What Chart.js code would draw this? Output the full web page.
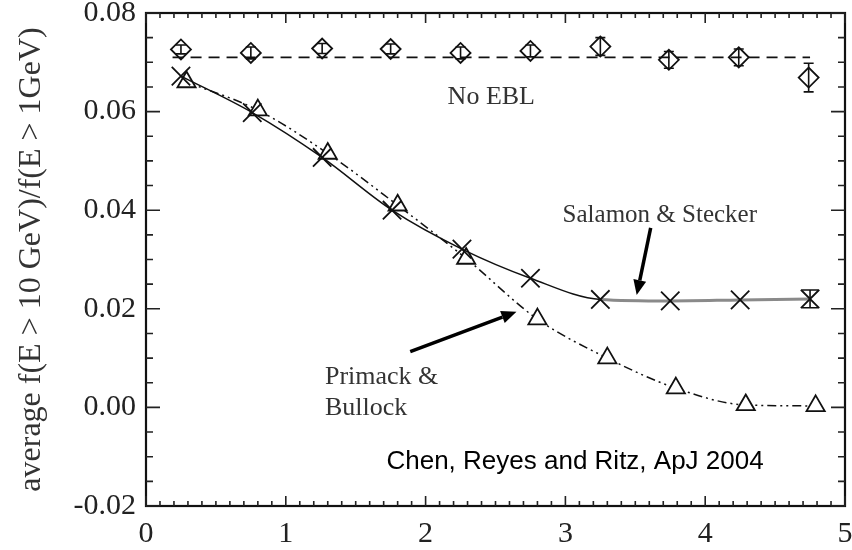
<!DOCTYPE html>
<html><head><meta charset="utf-8">
<script src="https://cdn.jsdelivr.net/npm/chart.js@4.4.1/dist/chart.umd.min.js"></script>
<style>html,body{margin:0;padding:0;background:#fff}#wrap{width:852px;height:550px;position:relative}canvas{display:block}</style>
</head><body><div id="wrap"><canvas id="c" width="852" height="550"></canvas></div>
<script>
// ---- data ----
const xTicks = [0, 1, 2, 3, 4, 5];
const yTicks = [-0.02, 0.00, 0.02, 0.04, 0.06, 0.08];
const noEblX = [0.25, 0.75, 1.26, 1.75, 2.25, 2.75, 3.25, 3.74, 4.24, 4.74];
const noEblY = [0.0726, 0.0719, 0.0728, 0.0727, 0.0719, 0.0723, 0.0732, 0.0705, 0.0710, 0.0669];
const noEblErr = [0.0009, 0.0012, 0.0010, 0.0010, 0.0012, 0.0012, 0.0018, 0.0017, 0.0017, 0.0029];
const noEblRefX = [0.19, 4.75];
const noEblRefY = [0.0710, 0.0710];
const ssX = [0.25, 0.76, 1.26, 1.76, 2.26, 2.75, 3.25, 3.75, 4.25, 4.75];
const ssY = [0.0672, 0.0598, 0.0507, 0.0400, 0.0321, 0.0262, 0.0219, 0.0216, 0.0218, 0.0220];
const ssErr = [0, 0, 0, 0, 0, 0, 0, 0, 0, 0.0018];
const pbX = [0.29, 0.80, 1.30, 1.80, 2.29, 2.80, 3.30, 3.79, 4.29, 4.79];
const pbY = [0.0660, 0.0603, 0.0515, 0.0410, 0.0302, 0.0179, 0.0100, 0.0039, 0.0005, 0.0003];

const pts = (xs, ys) => xs.map((x, i) => ({x: x, y: ys[i]}));

const notes = [
  {text: 'No EBL', x: 2.47, y: 0.0630, font: '26px "Liberation Serif"', color: '#333', align: 'center'},
  {text: 'Salamon & Stecker', x: 2.98, y: 0.0390, font: '25px "Liberation Serif"', color: '#333', align: 'left'},
  {text: 'Primack &', x: 1.28, y: 0.0062, font: '26px "Liberation Serif"', color: '#333', align: 'left'},
  {text: 'Bullock', x: 1.28, y: -0.0001, font: '26px "Liberation Serif"', color: '#333', align: 'left'},
  {text: 'Chen, Reyes and Ritz, ApJ 2004', x: 1.72, y: -0.0111, font: '26px "Liberation Sans"', color: '#000', align: 'left'}
];
const arrows = [
  {x0: 3.61, y0: 0.0364, x1: 3.51, y1: 0.0228},
  {x0: 1.89, y0: 0.0113, x1: 2.65, y1: 0.0194}
];

const decor = {
  id: 'decor',
  afterDatasetsDraw(chart) {
    const ctx = chart.ctx, xs = chart.scales.x, ys = chart.scales.y, a = chart.chartArea;
    ctx.save();
    const eb = (X, Y, E, cap) => {
      ctx.strokeStyle = '#111'; ctx.lineWidth = 1.6;
      X.forEach((x, i) => {
        if (!E[i]) return;
        const px = xs.getPixelForValue(x), p1 = ys.getPixelForValue(Y[i] + E[i]), p2 = ys.getPixelForValue(Y[i] - E[i]);
        ctx.beginPath();
        ctx.moveTo(px, p1); ctx.lineTo(px, p2);
        ctx.moveTo(px - cap, p1); ctx.lineTo(px + cap, p1);
        ctx.moveTo(px - cap, p2); ctx.lineTo(px + cap, p2);
        ctx.stroke();
      });
    };
    eb(noEblX, noEblY, noEblErr, 5);
    eb(ssX, ssY, ssErr, 8);
    ctx.strokeStyle = '#111'; ctx.lineWidth = 2.2;
    ctx.strokeRect(a.left, a.top, a.right - a.left, a.bottom - a.top);
    ctx.lineWidth = 1.6; ctx.strokeStyle = '#222';
    ctx.beginPath();
    for (let k = 0; k <= 50; k++) {
      const v = k / 10, px = xs.getPixelForValue(v), L = (k % 10 === 0) ? 10 : 5;
      ctx.moveTo(px, a.bottom); ctx.lineTo(px, a.bottom - L);
      ctx.moveTo(px, a.top); ctx.lineTo(px, a.top + L);
    }
    for (let k = 0; k <= 20; k++) {
      const v = -0.02 + k * 0.005, py = ys.getPixelForValue(v), L = (k % 4 === 0) ? 14 : 7;
      ctx.moveTo(a.left, py); ctx.lineTo(a.left + L, py);
      ctx.moveTo(a.right, py); ctx.lineTo(a.right - L, py);
    }
    ctx.stroke();
    ctx.textBaseline = 'middle';
    notes.forEach(n => {
      ctx.font = n.font; ctx.fillStyle = n.color; ctx.textAlign = n.align;
      ctx.fillText(n.text, xs.getPixelForValue(n.x), ys.getPixelForValue(n.y));
    });
    arrows.forEach(r => {
      const x0 = xs.getPixelForValue(r.x0), y0 = ys.getPixelForValue(r.y0);
      const x1 = xs.getPixelForValue(r.x1), y1 = ys.getPixelForValue(r.y1);
      const ang = Math.atan2(y1 - y0, x1 - x0), hl = 15, hw = 6.5;
      const bx = x1 - hl * Math.cos(ang), by = y1 - hl * Math.sin(ang);
      ctx.strokeStyle = '#000'; ctx.fillStyle = '#000'; ctx.lineWidth = 3.5;
      ctx.beginPath(); ctx.moveTo(x0, y0); ctx.lineTo(bx, by); ctx.stroke();
      ctx.beginPath();
      ctx.moveTo(x1, y1);
      ctx.lineTo(bx + hw * Math.sin(ang), by - hw * Math.cos(ang));
      ctx.lineTo(bx - hw * Math.sin(ang), by + hw * Math.cos(ang));
      ctx.closePath(); ctx.fill();
    });
    ctx.restore();
  }
};

new Chart(document.getElementById('c'), {
  type: 'scatter',
  data: {
    datasets: [
      {label: 'No EBL', data: pts(noEblX, noEblY), showLine: false, pointStyle: 'rectRot', pointRadius: 10,
       borderColor: '#111', backgroundColor: 'rgba(255,255,255,0)', borderWidth: 1.8},
      {label: 'No EBL level', data: pts(noEblRefX, noEblRefY), showLine: true, pointRadius: 0,
       borderColor: '#111', borderWidth: 1.6, borderDash: [11, 7]},
      {label: 'Salamon & Stecker', data: pts(ssX, ssY), showLine: true, pointStyle: 'crossRot', pointRadius: 13,
       borderColor: '#111', pointBorderColor: '#111', borderWidth: 1.5, pointBorderWidth: 1.8, cubicInterpolationMode: 'monotone',
       segment: {borderColor: c => c.p0DataIndex >= 6 ? '#8a8a8a' : '#111', borderWidth: c => c.p0DataIndex >= 6 ? 3 : 1.5}},
      {label: 'Primack & Bullock', data: pts(pbX, pbY), showLine: true, pointStyle: 'triangle', pointRadius: 10.5,
       borderColor: '#111', pointBackgroundColor: '#fff', backgroundColor: '#fff', borderWidth: 1.5, pointBorderWidth: 1.8,
       borderDash: [9, 4, 2, 4, 2, 4], cubicInterpolationMode: 'monotone'}
    ]
  },
  options: {
    responsive: false, maintainAspectRatio: false, animation: false, devicePixelRatio: 1,
    layout: {autoPadding: false, padding: {top: 13, right: 7, left: 0, bottom: 0}},
    plugins: {legend: {display: false}, tooltip: {enabled: false}},
    scales: {
      x: {
        type: 'linear', min: 0, max: 5,
        afterBuildTicks: s => { s.ticks = xTicks.map(v => ({value: v})); },
        afterFit: s => { s.height = 44; s.paddingLeft = 0; s.paddingRight = 0; },
        grid: {display: false, drawTicks: false}, border: {display: false},
        ticks: {padding: 10, color: '#222', font: {family: '"Liberation Serif"', size: 30}, callback: v => String(v), maxRotation: 0}
      },
      y: {
        type: 'linear', min: -0.02, max: 0.08,
        afterBuildTicks: s => { s.ticks = yTicks.map(v => ({value: v})); },
        afterFit: s => { s.width = 146; s.paddingTop = 0; s.paddingBottom = 0; },
        grid: {display: false, drawTicks: false}, border: {display: false},
        ticks: {padding: 10, color: '#222', font: {family: '"Liberation Serif"', size: 30}, callback: v => (+v).toFixed(2)},
        title: {display: true, text: 'average f(E > 10 GeV)/f(E > 1GeV)', color: '#333',
                font: {family: '"Liberation Serif"', size: 32}, padding: {top: 12, bottom: 0}}
      }
    }
  },
  plugins: [decor]
});
</script>
</body></html>
